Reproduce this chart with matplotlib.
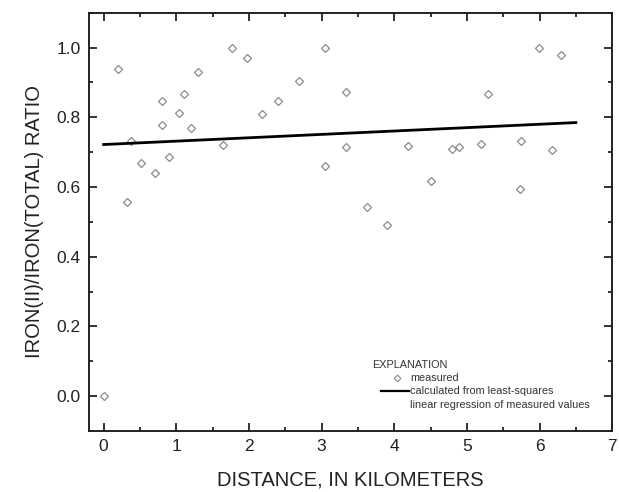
import matplotlib
matplotlib.use("Agg")
import matplotlib.pyplot as plt
from matplotlib.ticker import MultipleLocator

plt.rcParams['font.family'] = ['Liberation Sans', 'DejaVu Sans']

# measured ratios
distance_km = [0.00, 0.20, 0.32, 0.38, 0.52, 0.70, 0.80, 0.80, 0.90, 1.04,
               1.10, 1.20, 1.30, 1.64, 1.77, 1.97, 2.18, 2.40, 2.69, 3.05,
               3.05, 3.34, 3.34, 3.63, 3.90, 4.19, 4.50, 4.79, 4.89, 5.19,
               5.29, 5.73, 5.75, 5.99, 6.17, 6.29]
fe_ratio = [0.000, 0.940, 0.558, 0.732, 0.670, 0.639, 0.848, 0.777, 0.687, 0.812,
            0.867, 0.768, 0.930, 0.721, 1.000, 0.970, 0.809, 0.848, 0.903, 1.000,
            0.660, 0.872, 0.716, 0.544, 0.490, 0.718, 0.616, 0.709, 0.716, 0.723,
            0.868, 0.594, 0.733, 1.000, 0.707, 0.980]

# least-squares line end points
fit_x = [0.0, 6.5]
fit_y = [0.722, 0.785]

fig = plt.figure(figsize=(6.19, 4.92), dpi=100)
ax = fig.add_axes([0.144, 0.124, 0.845, 0.850])

ax.plot(distance_km, fe_ratio, linestyle='none', marker='D', markersize=4.4,
        markerfacecolor='white', markeredgecolor='#8a8a8a', markeredgewidth=0.9)
ax.plot(fit_x, fit_y, color='black', linewidth=2.0)

ax.set_xlim(-0.2, 7.0)
ax.set_ylim(-0.1, 1.1)
ax.xaxis.set_major_locator(MultipleLocator(1))
ax.xaxis.set_minor_locator(MultipleLocator(0.5))
ax.yaxis.set_major_locator(MultipleLocator(0.2))
ax.yaxis.set_minor_locator(MultipleLocator(0.1))
ax.yaxis.set_major_formatter(lambda v, p: f"{v:.1f}")

ax.tick_params(which='both', direction='in', top=True, right=True,
               color='#222222', width=1.3)
ax.tick_params(which='major', length=6, labelsize=12.5, pad=6, labelcolor='#222222')
ax.tick_params(which='minor', length=3)
for s in ax.spines.values():
    s.set_linewidth(1.4)
    s.set_color('#222222')

ax.set_xlabel("DISTANCE, IN KILOMETERS", fontsize=14.5, color='#222222', labelpad=12)
ax.set_ylabel("IRON(II)/IRON(TOTAL) RATIO", fontsize=14.5, color='#222222', labelpad=9)

# explanation box
tc = '#333333'
fs = 7.8
ax.text(3.70, 0.089, "EXPLANATION", fontsize=fs, color=tc, va='center')
ax.plot([4.04], [0.052], linestyle='none', marker='D', markersize=3.4,
        markerfacecolor='white', markeredgecolor='#8a8a8a', markeredgewidth=0.8)
ax.text(4.22, 0.052, "measured", fontsize=fs, color=tc, va='center')
ax.plot([3.82, 4.20], [0.014, 0.014], color='black', linewidth=1.6)
ax.text(4.22, 0.014, "calculated from least-squares", fontsize=fs, color=tc, va='center')
ax.text(4.22, -0.026, "linear regression of measured values", fontsize=fs, color=tc, va='center')

fig.savefig("out.png", dpi=100)
